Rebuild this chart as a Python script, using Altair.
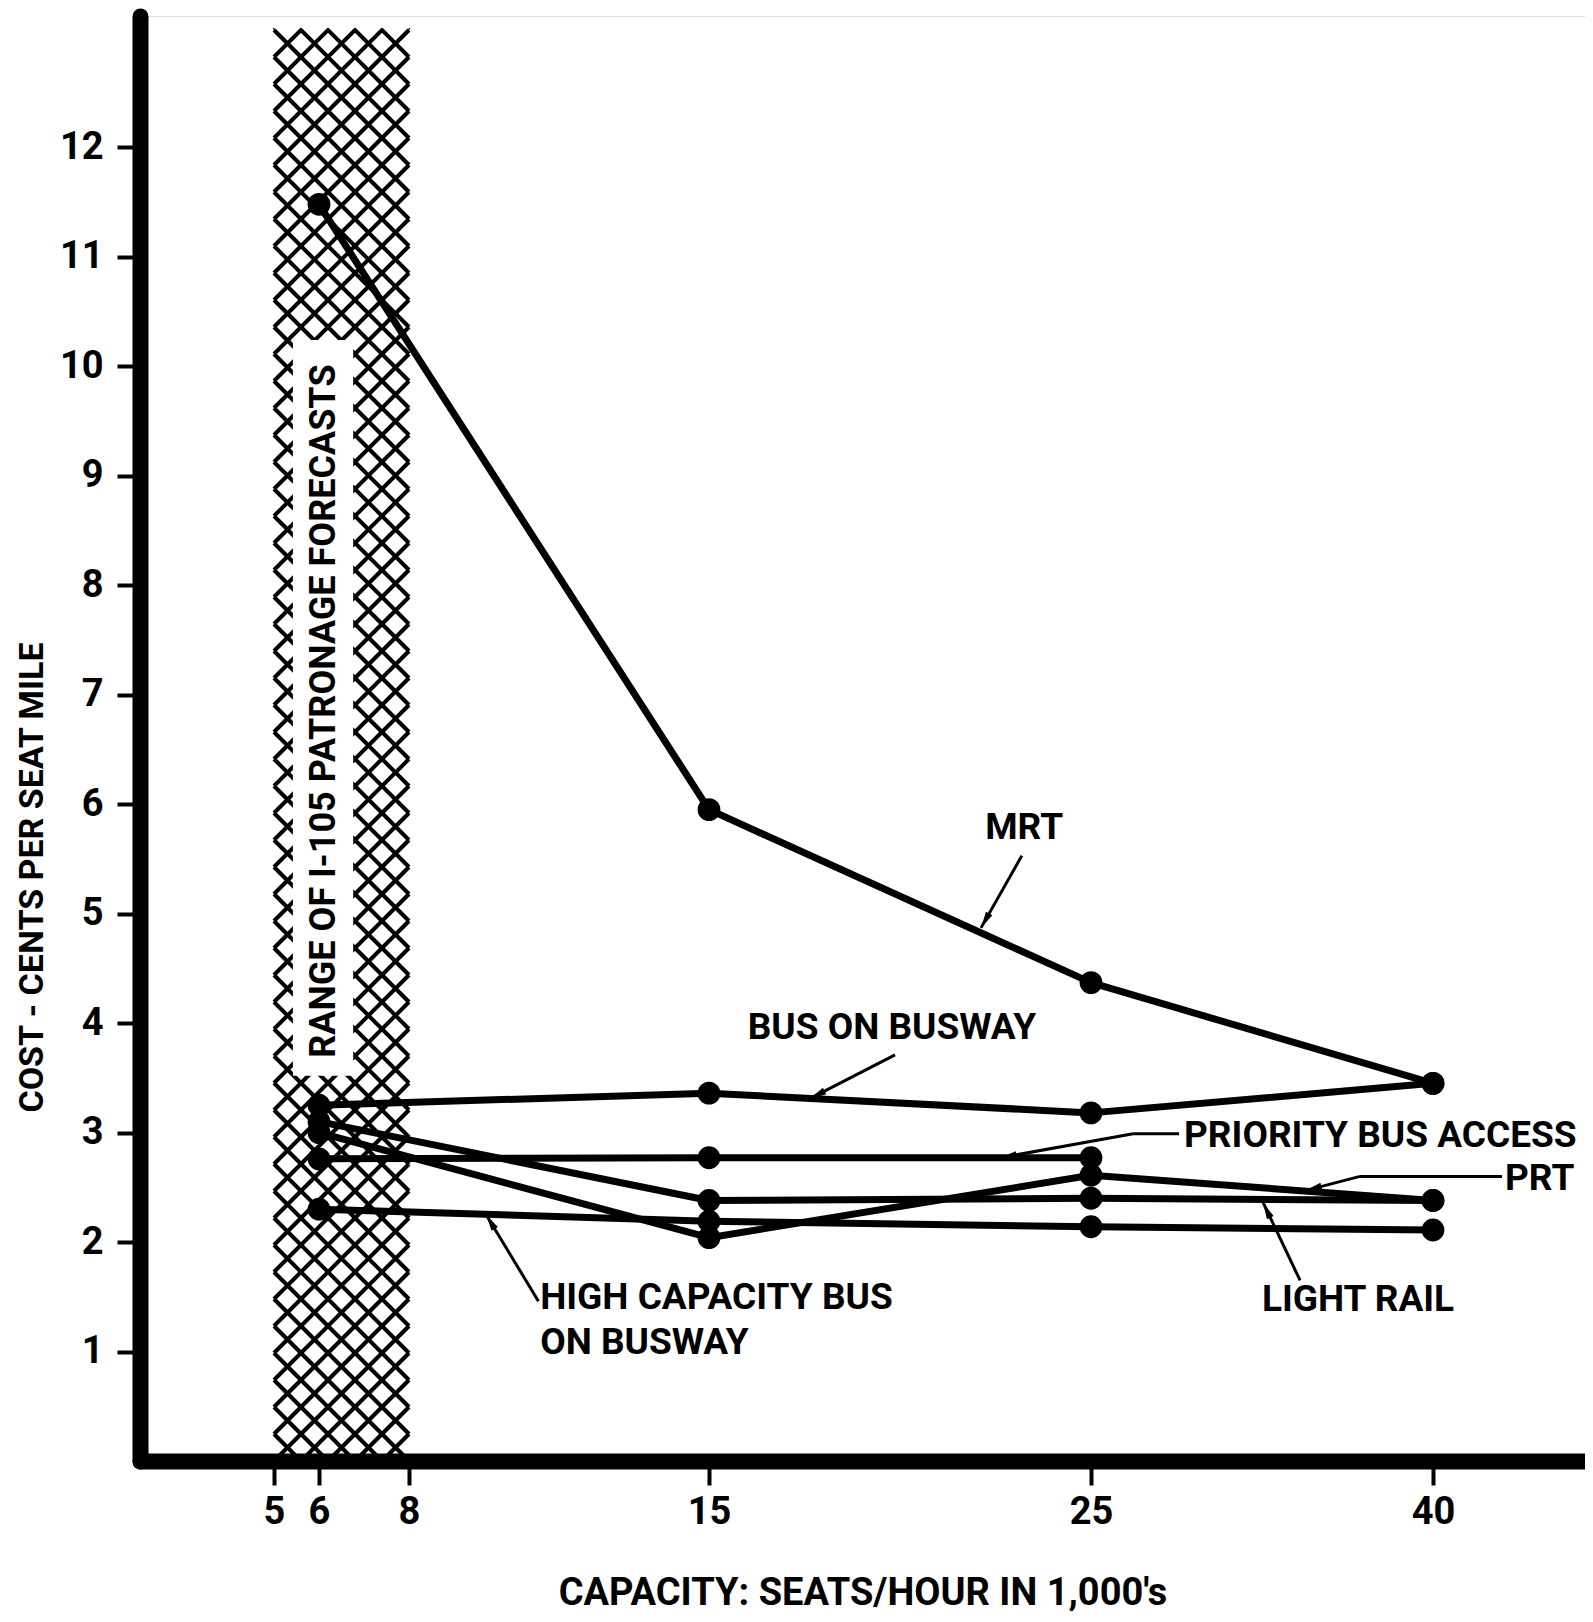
import math
import altair as alt
import numpy as np
import pandas as pd

# ---------------- data ----------------
capacity = [6, 15, 25, 40]
mrt = [11.48, 5.95, 4.37, 3.45]
bus_on_busway = [3.25, 3.36, 3.18, 3.45]
priority_capacity = [6, 15, 25]
priority_bus_access = [2.76, 2.77, 2.77]
prt = [3.00, 2.04, 2.61, 2.38]
light_rail = [3.10, 2.38, 2.40, 2.38]
high_capacity_bus = [2.30, 2.19, 2.14, 2.11]

x_tick_values = [5, 6, 8, 15, 25, 40]
y_tick_values = list(range(1, 13))
band_range = [5, 8]
band_top = 13.08
band_label = "RANGE OF I-105 PATRONAGE FORECASTS"
x_title = "CAPACITY: SEATS/HOUR IN 1,000's"
y_title = "COST - CENTS PER SEAT MILE"

# ---------------- layout / scales ----------------
W, H = 1445, 1445
Y_MAX = 13.2
X_DOMAIN = [2, 5, 6, 8, 15, 25, 40, 46.67]
X_RANGE = [0, 134, 179, 269, 569, 951, 1293, 1445]
FONT = "Roboto, sans-serif"

XS = alt.Scale(domain=X_DOMAIN, range=X_RANGE, nice=False, zero=False)
YS = alt.Scale(domain=[0, Y_MAX], nice=False, zero=False)

X_AX = alt.Axis(
    values=x_tick_values, title=x_title, grid=False,
    domainWidth=16, domainColor="black", domainCap="round",
    tickSize=24, tickWidth=4, tickColor="black",
    labelFont=FONT, labelFontSize=38, labelFontWeight="bold", labelColor="black",
    labelPadding=8, labelOverlap=False, labelFlush=False, labelBound=False,
    titleFont=FONT, titleFontSize=38, titleFontWeight="bold", titleColor="black",
    titleY=132, titleBaseline="middle",
)
Y_AX = alt.Axis(
    values=y_tick_values, title=y_title, grid=False,
    domainWidth=16, domainColor="black", domainCap="round",
    tickSize=23, tickWidth=4, tickColor="black",
    labelFont=FONT, labelFontSize=38, labelFontWeight="bold", labelColor="black",
    labelPadding=14, labelOverlap=False, labelFlush=False, labelBound=False,
    titleFont=FONT, titleFontSize=34, titleFontWeight="bold", titleColor="black",
    titleAngle=270, titleX=-108, titleY=861, titleAlign="center", titleBaseline="middle",
)


def X(f="x"):
    return alt.X(f"{f}:Q", scale=XS, axis=X_AX)


def Y(f="y"):
    return alt.Y(f"{f}:Q", scale=YS, axis=Y_AX)


# ---------------- series table ----------------
series = {
    "MRT": (capacity, mrt),
    "BUS ON BUSWAY": (capacity, bus_on_busway),
    "PRIORITY BUS ACCESS": (priority_capacity, priority_bus_access),
    "PRT": (capacity, prt),
    "LIGHT RAIL": (capacity, light_rail),
    "HIGH CAPACITY BUS": (capacity, high_capacity_bus),
}
rows = []
for name, (xs, ys) in series.items():
    for xv, yv in zip(xs, ys):
        rows.append({"series": name, "x": xv, "y": yv})
df = pd.DataFrame(rows)

# ---------------- cross-hatch texture for the forecast band ----------------
px_x = (X_RANGE[2] - X_RANGE[1]) / (X_DOMAIN[2] - X_DOMAIN[1])
px_y = H / Y_MAX
U = (band_range[1] - band_range[0]) * px_x
V = band_top * px_y
step = 27
hatch = []
for c in np.arange(-U, V, step):
    u0, u1 = max(0, -c), min(U, V - c)
    if u1 > u0:
        hatch.append({"x": band_range[0] + u0 / px_x, "y": (u0 + c) / px_y,
                      "x2": band_range[0] + u1 / px_x, "y2": (u1 + c) / px_y})
for c in np.arange(0, V + U, step):
    u0, u1 = max(0, c - V), min(U, c)
    if u1 > u0:
        hatch.append({"x": band_range[0] + u0 / px_x, "y": (c - u0) / px_y,
                      "x2": band_range[0] + u1 / px_x, "y2": (c - u1) / px_y})
hatch_df = pd.DataFrame(hatch)

label_box = pd.DataFrame([{"x": 5.42, "x2": 6.76, "y": 3.52, "y2": 10.24}])
band_text = pd.DataFrame([{"x": 6.12, "y": 6.85, "t": band_label}])

# ---------------- annotations ----------------
labels_center = pd.DataFrame([
    {"x": 23.25, "y": 5.78, "t": "MRT"},
    {"x": 19.79, "y": 3.96, "t": "BUS ON BUSWAY"},
    {"x": 36.71, "y": 1.47, "t": "LIGHT RAIL"},
])
labels_left = pd.DataFrame([
    {"x": 29.08, "y": 2.97, "t": "PRIORITY BUS ACCESS"},
    {"x": 43.16, "y": 2.58, "t": "PRT"},
    {"x": 11.06, "y": 1.49, "t": "HIGH CAPACITY BUS"},
    {"x": 11.06, "y": 1.08, "t": "ON BUSWAY"},
])
leaders = pd.DataFrame([
    {"x": 23.19, "y": 5.53, "x2": 22.12, "y2": 4.87},
    {"x": 19.87, "y": 3.71, "x2": 17.64, "y2": 3.31},
    {"x": 28.86, "y": 2.99, "x2": 26.85, "y2": 2.99},
    {"x": 26.85, "y": 2.99, "x2": 22.62, "y2": 2.77},
    {"x": 43.03, "y": 2.60, "x2": 36.80, "y2": 2.60},
    {"x": 36.80, "y": 2.60, "x2": 34.40, "y2": 2.47},
    {"x": 34.17, "y": 1.65, "x2": 32.55, "y2": 2.36},
    {"x": 11.02, "y": 1.46, "x2": 9.80, "y2": 2.25},
])
tip_idx = [0, 1, 3, 5, 6, 7]
heads = []
for i in tip_idx:
    r = leaders.iloc[i]
    dx = np.interp(r.x2, X_DOMAIN, X_RANGE) - np.interp(r.x, X_DOMAIN, X_RANGE)
    dy = -(r.y2 - r.y) * px_y
    ang = math.degrees(math.atan2(dx, -dy)) % 360
    heads.append({"x": r.x2, "y": r.y2, "angle": ang})
heads_df = pd.DataFrame(heads)

ARROW = "M0,0 L0.38,1.7 L-0.38,1.7 Z"

# ---------------- layers ----------------
hatch_layer = alt.Chart(hatch_df).mark_rule(color="black", strokeWidth=4, strokeCap="butt").encode(
    x=X(), y=Y(), x2="x2:Q", y2="y2:Q")
box_layer = alt.Chart(label_box).mark_rect(color="white").encode(
    x=X(), y=Y(), x2="x2:Q", y2="y2:Q")
band_text_layer = alt.Chart(band_text).mark_text(
    angle=270, font=FONT, fontSize=36, fontWeight="bold", color="black",
    align="center", baseline="middle").encode(x=X(), y=Y(), text="t:N")

lines = alt.Chart(df).mark_line(color="black", strokeWidth=7, strokeCap="round",
                                strokeJoin="round").encode(
    x=X(), y=Y(), detail="series:N")
points = alt.Chart(df).mark_circle(color="black", size=520, opacity=1).encode(x=X(), y=Y())

leader_layer = alt.Chart(leaders).mark_rule(color="black", strokeWidth=3).encode(
    x=X(), y=Y(), x2="x2:Q", y2="y2:Q")
head_layer = alt.Chart(heads_df).mark_point(
    shape=ARROW, filled=True, color="black", opacity=1, size=380, strokeWidth=0).encode(
    x=X(), y=Y(), angle=alt.Angle("angle:Q", scale=None))
txt_c = alt.Chart(labels_center).mark_text(
    font=FONT, fontSize=37, fontWeight="bold", color="black",
    align="center", baseline="middle").encode(x=X(), y=Y(), text="t:N")
txt_l = alt.Chart(labels_left).mark_text(
    font=FONT, fontSize=37, fontWeight="bold", color="black",
    align="left", baseline="middle").encode(x=X(), y=Y(), text="t:N")

chart = alt.layer(
    hatch_layer, box_layer, band_text_layer, lines, points,
    leader_layer, head_layer, txt_c, txt_l,
).properties(
    width=W, height=H,
    autosize=alt.AutoSizeParams(type="none"),
    padding={"left": 132, "top": 8, "right": 0, "bottom": 158},
).configure_view(stroke=None).configure(background="white")

chart.save("out.html", embed_options={"renderer": "svg", "actions": False})
